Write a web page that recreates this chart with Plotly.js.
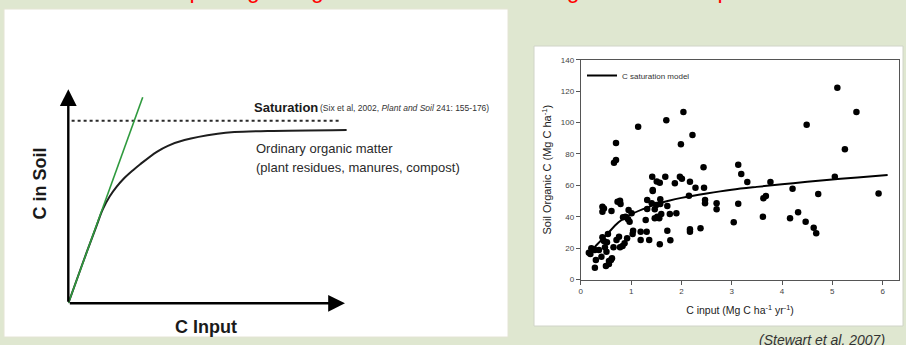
<!DOCTYPE html>
<html><head><meta charset="utf-8">
<script src="https://cdn.plot.ly/plotly-3.0.1.min.js"></script>
<style>html,body{margin:0;padding:0;background:#dfe7d0;overflow:hidden}</style>
</head><body><div id="chart" style="width:906px;height:345px"></div>
<script>
// ---- Left: conceptual diagram (C in soil vs C input) ----
const conceptInput = [0, 0.5, 1.0, 1.25, 1.5, 1.75, 2.0, 2.34, 2.6, 3.2, 3.6, 4.2, 5.4, 6.0, 7.2, 10.06];
const conceptSoil  = [0, 1.8, 3.55, 4.4, 5.0, 5.45, 5.82, 6.22, 6.5, 7.08, 7.36, 7.63, 7.92, 8.0, 8.05, 8.1];
const saturationInput = [0.12, 9.88];
const saturationSoil  = [8.53, 8.53];
const linearInput = [0, 2.69];
const linearSoil  = [0, 9.63];

// ---- Right: Stewart et al. 2007 scatter ----
const cInput = [0.66,0.70,0.70,1.14,1.70,2.04,1.99,2.22,2.44,1.42,1.68,1.97,2.01,1.51,1.57,1.43,1.87,2.17,2.28,2.45,
  3.13,3.19,3.31,3.77,4.21,4.49,5.10,5.48,5.25,5.05,4.72,5.92,3.13,3.04,3.63,3.68,3.62,4.16,4.32,4.47,4.63,4.68,
  2.15,2.47,2.47,2.70,2.70,2.17,2.17,2.38,
  0.16,0.21,0.28,0.36,0.30,0.28,0.43,0.46,0.48,0.51,0.54,0.50,0.56,0.60,0.62,0.56,0.43,0.43,0.46,0.61,0.73,0.78,0.79,
  0.65,0.71,0.76,0.78,0.83,0.87,0.84,0.89,0.94,0.95,0.97,1.04,1.03,0.92,1.19,1.19,1.31,1.36,1.29,1.32,1.32,1.43,1.41,
  1.47,1.50,1.52,1.47,1.56,1.58,1.58,1.60,1.72,1.77,1.90,1.72,1.78,1.57,1.01,0.52,0.41,0.19];
const soilOrganicC = [74.4,76.1,86.9,97.3,101.4,106.7,86.1,92.0,71.5,65.5,65.5,65.5,64.2,62.5,61.7,57.0,61.3,62.3,58.5,58.5,
  73.1,67.2,62.1,62.1,57.8,98.6,122.2,106.7,82.9,65.5,54.5,54.7,48.3,36.4,51.7,53.2,40.0,39.0,42.8,36.8,33.0,29.4,
  53.4,50.6,48.5,48.5,44.7,32.0,30.4,32.6,
  17.1,19.9,18.8,18.8,12.4,7.5,26.9,24.5,20.5,17.7,29.0,8.6,9.9,12.4,13.5,11.8,46.4,43.2,45.3,43.6,49.6,50.2,48.1,
  20.5,25.2,27.3,20.5,21.3,23.1,39.6,40.0,38.3,44.3,36.8,31.1,29.0,26.2,25.2,30.4,30.4,25.2,37.9,50.6,44.9,56.4,48.5,
  44.7,47.5,40.0,39.0,39.0,51.1,48.1,41.7,46.8,41.7,42.2,31.1,25.0,22.4,42.2,23.7,14.5,16.2];
const modelInput = [0.2,0.3,0.5,0.75,1.0,1.25,1.5,1.75,2.0,2.5,3.0,3.5,4.0,4.5,5.0,5.5,6.1];
const modelSOC   = [17,21.5,28,36.5,41.5,45,48,50.2,52,54.8,57.2,59,60.6,62.2,63.7,65,66.5];
const xTicks = [0,1,2,3,4,5,6];
const yTicks = [0,20,40,60,80,100,120,140];

const W = 906, H = 345;
const px = v => v / W;
const py = v => 1 - v / H;
const FONT = 'Liberation Sans, Arial, sans-serif';

const traces = [
  {x: conceptInput, y: conceptSoil, xaxis:'x', yaxis:'y', mode:'lines',
   line:{color:'#1e1e1e', width:2, shape:'spline', smoothing:1}, showlegend:false, hoverinfo:'skip'},
  {x: saturationInput, y: saturationSoil, xaxis:'x', yaxis:'y', mode:'lines',
   line:{color:'#2a2a2a', width:2, dash:'dot'}, showlegend:false, hoverinfo:'skip'},
  {x: linearInput, y: linearSoil, xaxis:'x', yaxis:'y', mode:'lines',
   line:{color:'#2f9a3e', width:1.6}, showlegend:false, hoverinfo:'skip'},
  {x: cInput, y: soilOrganicC, xaxis:'x2', yaxis:'y2', mode:'markers',
   marker:{size:6.5, color:'#000'}, showlegend:false},
  {x: modelInput, y: modelSOC, xaxis:'x2', yaxis:'y2', mode:'lines', name:'C saturation model',
   line:{color:'#000', width:2, shape:'spline'}, showlegend:true}
];

const layout = {
  width: W, height: H,
  margin:{l:0,r:0,t:0,b:0},
  paper_bgcolor:'#dfe7d0', plot_bgcolor:'#ffffff',
  font:{family:FONT, color:'#222'},
  showlegend:true,
  legend:{x:px(582), y:py(75.5), xanchor:'left', yanchor:'middle', bgcolor:'rgba(0,0,0,0)',
          font:{size:8, color:'#333'}, itemwidth:30, tracegroupgap:0},
  xaxis:{domain:[px(68.3), px(358.8)], range:[0,10.5], visible:false, fixedrange:true},
  yaxis:{domain:[py(303.3), py(78.6)], range:[0,10.5], visible:false, fixedrange:true},
  xaxis2:{domain:[px(580.8), px(899.2)], range:[0,6.33], anchor:'y2', tickvals:xTicks,
          ticks:'outside', ticklen:4, tickcolor:'#555', showline:true, linecolor:'#555', mirror:true,
          showgrid:false, zeroline:false, tickfont:{size:8, color:'#444'},
          title:{text:'C input (Mg C ha<sup>-1</sup> yr<sup>-1</sup>)', font:{size:10.5, color:'#222'}, standoff:11}},
  yaxis2:{domain:[py(279.5), py(59.7)], range:[0,140], anchor:'x2', tickvals:yTicks,
          ticks:'outside', ticklen:4, tickcolor:'#555', showline:true, linecolor:'#555', mirror:true,
          showgrid:false, zeroline:false, tickfont:{size:8, color:'#444'},
          title:{text:'Soil Organic C (Mg C ha<sup>-1</sup>)', font:{size:11, color:'#222'}, standoff:6}},
  shapes:[
    {type:'rect', xref:'paper', yref:'paper', x0:px(4), x1:px(508), y0:py(337), y1:py(9),
     fillcolor:'#ffffff', line:{color:'#e4e4d4', width:1}, layer:'below'},
    {type:'rect', xref:'paper', yref:'paper', x0:px(534), x1:px(903), y0:py(326), y1:py(46),
     fillcolor:'#ffffff', line:{color:'#d0d4c8', width:1}, layer:'below'}
  ],
  annotations:[
    // axes arrows of the concept diagram
    {xref:'x', yref:'y', axref:'x', ayref:'y', x:10, y:0, ax:0, ay:0, text:'', showarrow:true,
     arrowhead:2, arrowsize:1.4, arrowwidth:2.4, arrowcolor:'#000', standoff:0, startstandoff:0},
    {xref:'x', yref:'y', axref:'x', ayref:'y', x:0, y:10, ax:0, ay:0, text:'', showarrow:true,
     arrowhead:2, arrowsize:1.4, arrowwidth:2.4, arrowcolor:'#000', standoff:0, startstandoff:0},
    {xref:'paper', yref:'paper', x:px(252), y:py(107), xanchor:'left', yanchor:'middle', showarrow:false,
     text:'<b>Saturation</b>', font:{size:13, color:'#1a1a1a'}},
    {xref:'paper', yref:'paper', x:px(318), y:py(108), xanchor:'left', yanchor:'middle', showarrow:false,
     text:'(Six et al, 2002, <i>Plant and Soil</i> 241: 155-176)', font:{size:8.5, color:'#333'}},
    {xref:'paper', yref:'paper', x:px(254), y:py(148.5), xanchor:'left', yanchor:'middle', showarrow:false,
     text:'Ordinary organic matter', font:{size:13, color:'#2a2a2a'}},
    {xref:'paper', yref:'paper', x:px(254), y:py(167), xanchor:'left', yanchor:'middle', showarrow:false,
     text:'(plant residues, manures, compost)', font:{size:13, color:'#2a2a2a'}},
    {xref:'paper', yref:'paper', x:px(39), y:py(183.5), xanchor:'center', yanchor:'middle', showarrow:false,
     textangle:-90, text:'<b>C in Soil</b>', font:{size:18, color:'#1a1a1a'}},
    {xref:'paper', yref:'paper', x:px(206), y:py(327), xanchor:'center', yanchor:'middle', showarrow:false,
     text:'<b>C Input</b>', font:{size:18, color:'#1a1a1a'}},
    {xref:'paper', yref:'paper', x:px(442), y:1, xanchor:'center', yanchor:'middle', yshift:10, showarrow:false,
     text:'Concepts regarding soil C saturation and organic matter inputs', font:{size:23, color:'#ff0000'}},
    {xref:'paper', yref:'paper', x:px(887), y:py(340), xanchor:'right', yanchor:'middle', showarrow:false,
     text:'<i>(Stewart et al. 2007)</i>', font:{size:14, color:'#333'}}
  ]
};

Plotly.newPlot('chart', traces, layout, {staticPlot:true, displayModeBar:false});
</script></body></html>
